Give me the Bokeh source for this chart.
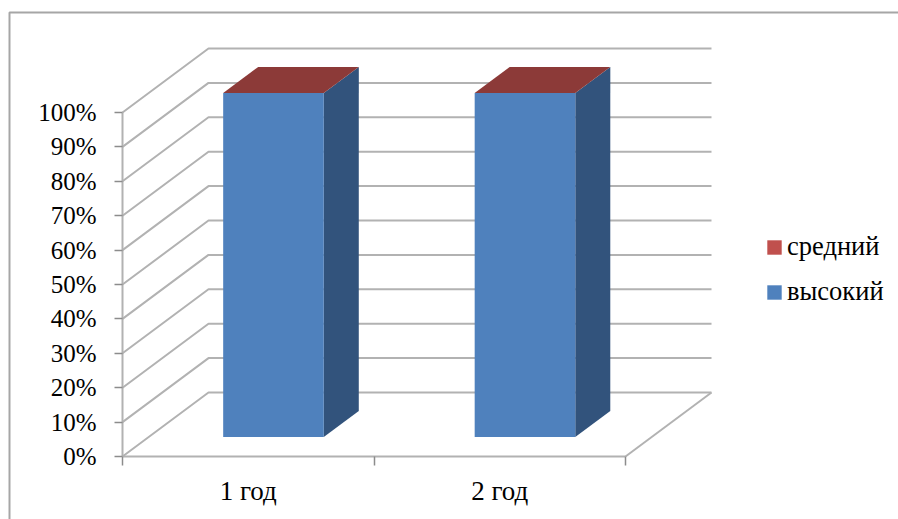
from bokeh.plotting import figure
from bokeh.models import Range1d, LinearAxis, FixedTicker, Legend, LegendItem
from bokeh.embed import file_html
from bokeh.resources import INLINE

# ---- data ----
categories = ["1 год", "2 год"]
series_high = [100, 100]     # высокий
series_mid = [0, 0]          # средний
series_names = ["средний", "высокий"]
y_ticks = [0, 10, 20, 30, 40, 50, 60, 70, 80, 90, 100]
y_tick_labels = ["0%", "10%", "20%", "30%", "40%", "50%", "60%", "70%", "80%", "90%", "100%"]

# ---- layout (pixels inside the figure) ----
W, H = 898, 519
X0_PX, UNIT_X = 122.0, 251.5   # x = 0 and pixels per category
Y0_PX, UNIT_Y = 456.0, 3.44    # 0 % and pixels per percent
DEPTH_X = 86 / UNIT_X          # oblique depth of the whole floor
DEPTH_Y = 64 / UNIT_Y
BAR_W = 0.4
BAR_SHIFT = -1 / UNIT_X
BAR_NEAR, BAR_FAR = 0.305, 0.712  # bar position along the depth

FONT = "Liberation Serif"
GRID = "#b2b2b2"
BLUE, BLUE_SIDE, RED, RED_TOP = "#4f81bd", "#32537c", "#c0504d", "#8c3a38"

x_range = Range1d(-X0_PX / UNIT_X, (W - X0_PX) / UNIT_X)
y_range = Range1d(-(H - Y0_PX) / UNIT_Y, Y0_PX / UNIT_Y)

p = figure(width=W, height=H, x_range=x_range, y_range=y_range,
           output_backend="svg", toolbar_location=None,
           min_border=0, x_axis_type=None, y_axis_type=None,
           outline_line_color=None, background_fill_color="white",
           border_fill_color="white")
p.grid.visible = False


def proj(x, v, f):
    """oblique projection: x along categories, v in percent, f along the depth"""
    return x + f * DEPTH_X, v + f * DEPTH_Y


# outer frame of the chart
bx = x_range.start + 9 / UNIT_X
tp = y_range.end - 12 / UNIT_Y
p.line([bx, bx, x_range.end], [y_range.start, tp, tp], line_color="#a6a6a6", line_width=2)

# walls: side gridlines + back gridlines
n_cat = len(categories)
xs, ys = [], []
for v in y_ticks:
    ax, ay = proj(0, v, 0)
    bx2, by2 = proj(0, v, 1)
    cx, cy = proj(n_cat, v, 1)
    xs.append([ax, bx2, cx])
    ys.append([ay, by2, cy])
# floor right edge
ax, ay = proj(n_cat, 0, 0)
bx2, by2 = proj(n_cat, 0, 1)
xs.append([ax, bx2])
ys.append([ay, by2])
p.multi_line(xs, ys, line_color=GRID, line_width=2)

# bars
centers = [i + 0.5 for i in range(n_cat)]
side_x, side_y, top_x, top_y = [], [], [], []
front_x, front_bottom, front_top, mid_bottom, mid_top = [], [], [], [], []
for c0, hi, mid in zip(centers, series_high, series_mid):
    c = c0 + BAR_SHIFT
    l, r = c - BAR_W / 2, c + BAR_W / 2
    total = hi + mid
    fb = proj(r, 0, BAR_NEAR)
    ft = proj(r, total, BAR_NEAR)
    bb = proj(r, 0, BAR_FAR)
    bt = proj(r, total, BAR_FAR)
    side_x.append([fb[0], ft[0], bt[0], bb[0]])
    side_y.append([fb[1], ft[1], bt[1], bb[1]])
    lt_n = proj(l, total, BAR_NEAR)
    lt_f = proj(l, total, BAR_FAR)
    top_x.append([lt_n[0], ft[0], bt[0], lt_f[0]])
    top_y.append([lt_n[1], ft[1], bt[1], lt_f[1]])
    front_x.append(proj(c, 0, BAR_NEAR)[0])
    front_bottom.append(proj(c, 0, BAR_NEAR)[1])
    front_top.append(proj(c, hi, BAR_NEAR)[1])
    mid_bottom.append(proj(c, hi, BAR_NEAR)[1])
    mid_top.append(proj(c, total, BAR_NEAR)[1])

p.patches(side_x, side_y, fill_color=BLUE_SIDE, line_color=None)
p.patches(top_x, top_y, fill_color=RED_TOP, line_color=None)
r_high = p.vbar(x=front_x, bottom=front_bottom, top=front_top, width=BAR_W,
                fill_color=BLUE, line_color=None)
r_mid = p.vbar(x=front_x, bottom=mid_bottom, top=mid_top, width=BAR_W,
               fill_color=RED, line_color=None)

# axes
yax = LinearAxis(fixed_location=0, bounds=(0, 100),
                 ticker=FixedTicker(ticks=y_ticks),
                 major_label_overrides=dict(zip(y_ticks, y_tick_labels)))
yax.major_tick_out = 8
yax.major_tick_in = 0
yax.major_label_standoff = 18
yax.major_label_text_font_size = "25px"
p.add_layout(yax, "left")

lab_pos = centers
xax = LinearAxis(fixed_location=0, bounds=(0, n_cat),
                 ticker=FixedTicker(ticks=lab_pos, minor_ticks=list(range(n_cat + 1))),
                 major_label_overrides=dict(zip(lab_pos, categories)))
xax.major_tick_out = 0
xax.major_tick_in = 0
xax.minor_tick_out = 9
xax.minor_tick_in = 0
xax.major_label_standoff = 10
xax.major_label_text_font_size = "27px"
p.add_layout(xax, "below")

for ax_ in (xax, yax):
    ax_.axis_line_color = GRID
    ax_.axis_line_width = 2
    ax_.major_tick_line_color = "#8c8c8c"
    ax_.major_tick_line_width = 1.5
    ax_.minor_tick_line_color = "#8c8c8c"
    ax_.minor_tick_line_width = 1.5
    ax_.major_label_text_font = FONT
    ax_.major_label_text_color = "#000000"

legend = Legend(items=[LegendItem(label=series_names[0], renderers=[r_mid]),
                       LegendItem(label=series_names[1], renderers=[r_high])],
                location=(765, 212), orientation="vertical",
                glyph_width=18, glyph_height=18, spacing=14, padding=0, margin=0,
                label_standoff=4, border_line_color=None, background_fill_alpha=0,
                label_text_font=FONT, label_text_font_size="26.5px",
                label_text_color="#000000")
p.add_layout(legend)

open("out.html", "w").write(file_html(p, INLINE))
